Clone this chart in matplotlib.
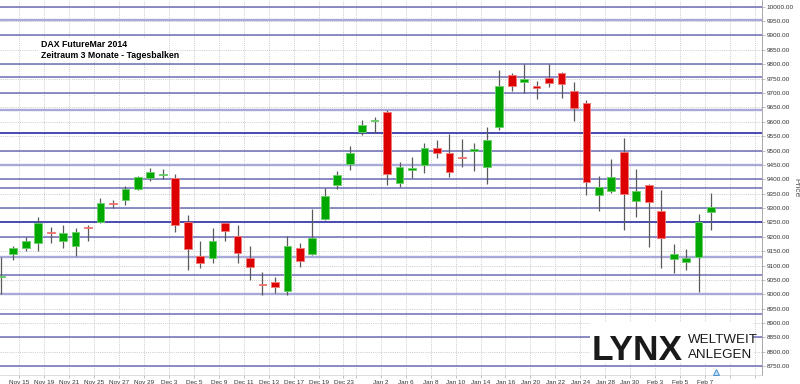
import matplotlib
matplotlib.use("Agg")
import matplotlib.pyplot as plt
import matplotlib.patches as mpatches
import numpy as np
import pandas as pd

# ---------------- data ----------------
dates = ["2013-11-13", "2013-11-14", "2013-11-15", "2013-11-18", "2013-11-19", "2013-11-20",
         "2013-11-21", "2013-11-22", "2013-11-25", "2013-11-26", "2013-11-27", "2013-11-28",
         "2013-11-29", "2013-12-02", "2013-12-03", "2013-12-04", "2013-12-05", "2013-12-06",
         "2013-12-09", "2013-12-10", "2013-12-11", "2013-12-12", "2013-12-13", "2013-12-16",
         "2013-12-17", "2013-12-18", "2013-12-19", "2013-12-20", "2013-12-23", "2013-12-27",
         "2013-12-30", "2014-01-02", "2014-01-03", "2014-01-06", "2014-01-07", "2014-01-08",
         "2014-01-09", "2014-01-10", "2014-01-13", "2014-01-14", "2014-01-15", "2014-01-16",
         "2014-01-17", "2014-01-20", "2014-01-21", "2014-01-22", "2014-01-23", "2014-01-24",
         "2014-01-27", "2014-01-28", "2014-01-29", "2014-01-30", "2014-01-31", "2014-02-03",
         "2014-02-04", "2014-02-05", "2014-02-06", "2014-02-07"]
opens = [9060, 9139, 9160, 9177, 9218, 9187, 9169, 9234, 9250, 9317, 9328, 9366, 9405, 9416,
         9405, 9253, 9134, 9127, 9247, 9202, 9125, 9037, 9044, 9011, 9162, 9139, 9262, 9380,
         9452, 9563, 9601, 9635, 9388, 9434, 9449, 9509, 9490, 9477, 9499, 9442, 9583, 9763,
         9737, 9723, 9752, 9768, 9708, 9666, 9345, 9360, 9496, 9324, 9379, 9290, 9122, 9113,
         9129, 9286]
highs = [9130, 9168, 9199, 9268, 9235, 9241, 9229, 9240, 9336, 9328, 9377, 9413, 9438, 9437,
         9418, 9276, 9185, 9229, 9250, 9241, 9168, 9077, 9059, 9203, 9177, 9296, 9369, 9430,
         9516, 9606, 9618, 9641, 9461, 9478, 9525, 9537, 9558, 9539, 9525, 9581, 9780, 9768,
         9801, 9740, 9801, 9773, 9737, 9676, 9411, 9469, 9542, 9436, 9383, 9363, 9174, 9157,
         9279, 9353]
lows = [9000, 9119, 9151, 9152, 9177, 9160, 9133, 9187, 9247, 9299, 9309, 9364, 9394, 9401,
        9216, 9084, 9090, 9110, 9186, 9108, 9050, 8996, 9003, 8998, 9096, 9137, 9258, 9365,
        9432, 9554, 9562, 9380, 9374, 9405, 9423, 9473, 9409, 9444, 9430, 9384, 9571, 9708,
        9701, 9678, 9720, 9681, 9603, 9345, 9290, 9351, 9224, 9270, 9166, 9090, 9073, 9084,
        9009, 9224]
closes = [9065, 9162, 9185, 9247, 9214, 9213, 9216, 9230, 9316, 9314, 9366, 9409, 9424, 9419,
          9241, 9156, 9110, 9185, 9220, 9142, 9094, 9033, 9026, 9169, 9117, 9197, 9342, 9415,
          9490, 9590, 9605, 9418, 9442, 9437, 9508, 9490, 9425, 9474, 9506, 9537, 9725, 9724,
          9748, 9719, 9736, 9730, 9647, 9389, 9372, 9407, 9349, 9359, 9322, 9195, 9140, 9125,
          9250, 9302]

tick_dates = ["2013-11-15", "2013-11-19", "2013-11-21", "2013-11-25", "2013-11-27",
              "2013-11-29", "2013-12-03", "2013-12-05", "2013-12-09", "2013-12-11", "2013-12-13",
              "2013-12-17", "2013-12-19", "2013-12-23", "2013-12-27", "2014-01-02", "2014-01-06",
              "2014-01-08", "2014-01-10", "2014-01-14", "2014-01-16", "2014-01-20", "2014-01-22",
              "2014-01-24", "2014-01-28", "2014-01-30", "2014-02-03", "2014-02-05", "2014-02-07"]
hidden_tick_dates = ["2013-12-27"]

level_values = [10000, 9955, 9900, 9800, 9754, 9700, 9640, 9560, 9500, 9450, 9400, 9370,
                9300, 9250, 9200, 9128, 9066, 9000, 8933, 8850, 8752]
level_kinds = ["mid", "light", "mid", "mid", "mid", "mid", "light", "dark", "mid", "light", "mid",
               "mid", "mid", "dark", "mid", "light", "mid", "light", "mid", "mid", "mid"]

price_ticks = list(range(8750, 10001, 50))

title_lines = ["DAX FutureMar 2014", "Zeitraum 3 Monate - Tagesbalken"]

# ---------------- figure ----------------
W, H = 800, 384
fig = plt.figure(figsize=(W / 100, H / 100), dpi=100)
fig.patch.set_facecolor("white")
ax = fig.add_axes([0, 9 / H, 762 / W, 375 / H])
ax.set_facecolor("white")

n = len(dates)
idx = np.arange(n)
o = np.array(opens, float)
h = np.array(highs, float)
l = np.array(lows, float)
c = np.array(closes, float)
up = c >= o

# wicks
ax.vlines(idx, l, h, color="#5a5a5a", lw=0.9, zorder=3)
# bodies
body_bottom = np.minimum(o, c)
body_h = np.maximum(np.abs(c - o), 4)
body_bottom = np.where(np.abs(c - o) < 4, (o + c) / 2 - 2, body_bottom)
face = np.where(up, "#00a800", "#dd0000")
edge = np.where(up, "#6ccf6c", "#f07a7a")
ax.bar(idx, body_h, bottom=body_bottom, width=0.62, color=face, edgecolor=edge,
       linewidth=0.6, zorder=4)

# horizontal levels
style = {"mid": ("#6c6cb8", 1.1), "light": ("#a9a9d9", 1.7), "dark": ("#4a4ab0", 1.4)}
for v, k in zip(level_values, level_kinds):
    col, lw = style[k]
    ax.axhline(v, color=col, lw=lw, zorder=2)

# axes limits
ax.set_xlim(-0.064, 61.09)
ax.set_ylim(8719.4, 10023.3)

# x ticks (at the boundary before each labelled day)
pos_of = {d: i for i, d in enumerate(dates)}
xt = [pos_of[d] - 0.5 for d in tick_dates] + [n + 0.5, n + 2.5]
xl = []
for d in tick_dates:
    if d in hidden_tick_dates:
        xl.append("")
    else:
        ts = pd.Timestamp(d)
        xl.append(f"{ts.strftime('%b')} {ts.day}")
xl += ["", ""]
ax.set_xticks(xt)
ax.set_xticklabels(xl)

ax.set_yticks(price_ticks)
ax.set_yticklabels([f"{p:.2f}" for p in price_ticks])
ax.yaxis.tick_right()

tick_font = ["Liberation Sans", "DejaVu Sans"]
for lab in ax.get_xticklabels() + ax.get_yticklabels():
    lab.set_family(tick_font)
ax.tick_params(axis="x", labelsize=4.6, colors="#333333", length=2, width=0.5, pad=1.5,
               color="#aaaaaa")
ax.tick_params(axis="y", labelsize=4.6, colors="#333333", length=2, width=0.5, pad=1.5,
               color="#aaaaaa")

ax.grid(True, color="#c4c4c4", linestyle=(0, (1.2, 1.4)), linewidth=0.6, zorder=1)
ax.set_axisbelow(True)

for s in ["top", "left"]:
    ax.spines[s].set_visible(False)
ax.spines["right"].set_color("#9a9a9a")
ax.spines["right"].set_linewidth(0.6)
ax.spines["bottom"].set_color("#d0d0d0")
ax.spines["bottom"].set_linewidth(0.5)

ax.yaxis.set_label_position("right")
ax.set_ylabel("Price", rotation=270, fontsize=6, color="#555555", labelpad=4,
              family=tick_font)

# current-bar marker
ax.plot([n - 1 + 0.4], [0.007], marker="^", ms=4.5, mfc="#bfe0f5", mec="#4a90d0", mew=0.7,
        transform=ax.get_xaxis_transform(), clip_on=False, zorder=6)

# title box
fig.patches.append(mpatches.Rectangle((38 / W, 1 - 61 / H), 130 / W, 23 / H,
                                      transform=fig.transFigure, facecolor="white",
                                      edgecolor="none", zorder=5))
fig.text(41 / W, 1 - 44.5 / H, title_lines[0], fontsize=6.3, fontweight="bold",
         family=tick_font, va="center", ha="left", zorder=6)
fig.text(41 / W, 1 - 55.5 / H, title_lines[1], fontsize=6.3, fontweight="bold",
         family=tick_font, va="center", ha="left", zorder=6)

# LYNX logo
logo_font = ["Liberation Sans Narrow", "Liberation Sans", "DejaVu Sans"]
fig.patches.append(mpatches.Rectangle((590 / W, 1 - 363 / H), 163 / W, 41 / H,
                                      transform=fig.transFigure, facecolor="white",
                                      edgecolor="none", zorder=5))
fig.text(592 / W, 1 - 359.5 / H, "LYNX", fontsize=25.5, fontweight="heavy",
         family=logo_font, fontstretch="condensed",
         color="#1a1a1a", va="baseline", ha="left", zorder=6)
fig.text(688 / W, 1 - 343 / H, "WELTWEIT", fontsize=9.6,
         family=logo_font, fontstretch="condensed",
         color="#1a1a1a", va="baseline", ha="left", zorder=6)
fig.text(688 / W, 1 - 357.5 / H, "ANLEGEN", fontsize=9.6,
         family=logo_font, fontstretch="condensed",
         color="#1a1a1a", va="baseline", ha="left", zorder=6)

fig.savefig("out.png", dpi=100, facecolor="white")
